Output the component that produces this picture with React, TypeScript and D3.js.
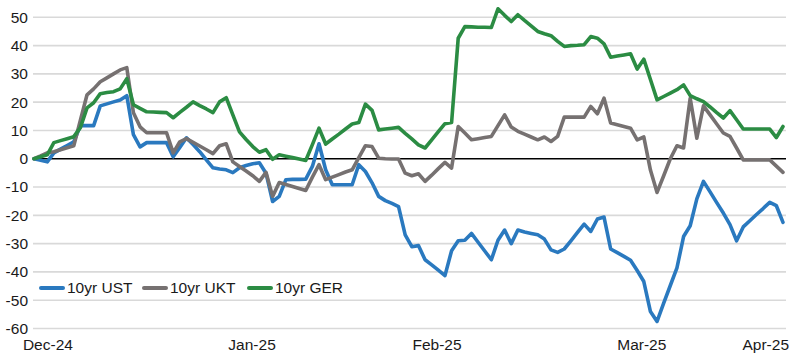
import React from "react";
import * as d3 from "d3";

const seriesNames = ["10yr UST", "10yr UKT", "10yr GER"];
const seriesColors = ["#2a79bf", "#767171", "#2b8c43"];

const ust = [
  0, -0.5, -1.1, 2.1, 3.4, 4.7, 6, 11.7, 11.7, 11.7,
  18.7, 19.4, 20.1, 20.8, 22.3, 8.5, 4.2, 5.7, 5.7, 5.7,
  5.7, 0.7, 4, 7.4, 5, 2.5, -0.4, -3.2, -3.6, -3.9,
  -4.9, -3.2, -2.4, -1.8, -1.4, -5.1, -15.1, -13.3, -7.4, -7.3,
  -7.3, -7.2, -2.7, 5.3, -3.9, -9.2, -9.2, -9.2, -9.2, -2.1,
  -4.5, -8.5, -13.3, -14.8, -15.8, -16.9, -26.9, -31.1, -30.7, -35.7,
  -37.5, -39.4, -41.3, -32.5, -29, -28.8, -26.4, -29.5, -32.6, -35.7,
  -28.8, -25.2, -30, -25.2, -25.9, -26.4, -26.9, -28.4, -32.2, -33.1,
  -31.9, -29, -26, -23.1, -25.7, -21.3, -20.6, -31.9, -33.2, -34.5,
  -35.9, -39.5, -43.4, -54, -57.5, -51, -44.8, -38.6, -27.5, -23.7,
  -14.2, -8, -11.7, -15.5, -19.2, -23.3, -29, -24.1, -21.9, -19.7,
  -17.6, -15.4, -16.6, -22.5,
];

const ukt = [
  0, 1, 2.1, 2.5, 3.2, 3.9, 4.6, 13.6, 22.6, 24.7,
  27.2, 28.6, 30, 31.4, 32.2, 16.3, 11.3, 9.2, 9.2, 9.2,
  9.2, 2.1, 6, 7.1, 5.8, 4.5, 3.2, 1.8, 4.6, 5.3,
  -1.1, -2.7, -4.3, -6, -8, -4.8, -13.3, -8.4, -9.1, -9.8,
  -10.5, -11.2, -6.5, -2.1, -7.4, -6.5, -5.6, -4.7, -3.9, 0.4,
  4.6, 4.3, 0.2, 0, -0.1, -0.1, -5.1, -6, -5.3, -8,
  -5.8, -3.5, -1.3, -3.3, 11.4, 9.1, 6.7, 7.1, 7.5, 7.9,
  11.7, 15.5, 11.2, 9.7, 8.7, 7.7, 6.7, 7.7, 6.1, 7.9,
  14.7, 14.7, 14.7, 14.7, 18.5, 15.9, 21.4, 12.6, 12, 11.4,
  10.8, 6.7, 7.7, -4, -11.9, -6, 0, 4.6, 3.8, 21.4,
  7.3, 18.7, 15.5, 12.3, 9.1, 7.9, 3.8, -0.4, -0.4, -0.4,
  -0.4, -0.4, -2.6, -4.8,
];

const ger = [
  0, 0.7, 1.4, 5.7, 6.4, 7.1, 7.8, 11, 18, 19.8,
  23, 23.4, 23.7, 24.7, 28.3, 19.1, 17.8, 16.6, 16.5, 16.4,
  16.3, 14.5, 16.4, 18.2, 20.1, 18.8, 17.6, 16.3, 20.1, 21.6,
  15.5, 9.5, 6.8, 4.3, 2.3, 3.2, -0.2, 1.4, 0.9, 0.4,
  -0.1, -0.6, 5, 10.8, 5.2, 7, 8.7, 10.5, 12.3, 12.8,
  19.3, 17.1, 10.2, 10.5, 10.8, 11.1, 9, 7, 4.9, 3.8,
  6.7, 9.6, 12.4, 12.8, 42.6, 46.7, 46.6, 46.5, 46.5, 46.4,
  53, 50.7, 48.5, 50.9, 48.9, 47, 45, 44.2, 43.5, 41.5,
  39.7, 40, 40.1, 40.3, 43.2, 42.6, 40.6, 35.9, 36.3, 36.7,
  37.1, 31.7, 35.2, 28, 20.8, 22, 23.2, 24.4, 26.1, 22.3,
  21.2, 20.2, 18.3, 16.3, 14.4, 17, 13.8, 10.5, 10.5, 10.5,
  10.5, 10.5, 7.5, 11.4,
];

const yTicks = [50, 40, 30, 20, 10, 0, -10, -20, -30, -40, -50, -60];
const xTickLabels = ["Dec-24", "Jan-25", "Feb-25", "Mar-25", "Apr-25"];
const xTickIndex = [2.1, 32.9, 60.8, 91.7, 110.4];

const W = 803;
const H = 358;
const FONT = "'Liberation Sans', Arial, sans-serif";

export default function App() {
  const allSeries = [ust, ukt, ger];
  const n = ust.length;
  const x = d3.scaleLinear().domain([0, n - 1]).range([34, 783]);
  const y = d3.scaleLinear().domain([-60, 50]).range([328.5, 17.3]);
  const line = d3
    .line<number>()
    .x((_, i) => x(i))
    .y((d) => y(d));

  const gridX0 = 33;
  const gridX1 = 786;

  const legendY = 288;
  const legendItems = [
    { lx: 41, tx: 67 },
    { lx: 144, tx: 170 },
    { lx: 249, tx: 275 },
  ];

  return (
    <svg
      width={W}
      height={H}
      style={{ position: "absolute", left: 0, top: 0, background: "#fff" }}
      fontFamily={FONT}
    >
      {yTicks.map((t) => (
        <g key={t}>
          <line
            x1={gridX0}
            x2={gridX1}
            y1={y(t)}
            y2={y(t)}
            stroke={t === 0 ? "#000" : "#d9d9d9"}
            strokeWidth={t === 0 ? 1.6 : 1.6}
          />
          <text
            x={28}
            y={y(t)}
            dy="0.35em"
            textAnchor="end"
            fontSize={15.5}
            fill="#1a1a1a"
          >
            {t}
          </text>
        </g>
      ))}
      {xTickLabels.map((lab, i) => (
        <text
          key={lab}
          x={x(xTickIndex[i])}
          y={345}
          dy="0.35em"
          textAnchor="middle"
          fontSize={15.5}
          fill="#1a1a1a"
        >
          {lab}
        </text>
      ))}
      {allSeries.map((s, i) => (
        <path
          key={seriesNames[i]}
          d={line(s) || ""}
          fill="none"
          stroke={seriesColors[i]}
          strokeWidth={3.6}
          strokeLinejoin="round"
          strokeLinecap="round"
        />
      ))}
      {legendItems.map((it, i) => (
        <g key={seriesNames[i]}>
          <line
            x1={it.lx}
            x2={it.lx + 22}
            y1={legendY}
            y2={legendY}
            stroke={seriesColors[i]}
            strokeWidth={4}
            strokeLinecap="round"
          />
          <text
            x={it.tx}
            y={legendY}
            dy="0.35em"
            fontSize={15.5}
            fill="#1a1a1a"
          >
            {seriesNames[i]}
          </text>
        </g>
      ))}
    </svg>
  );
}
